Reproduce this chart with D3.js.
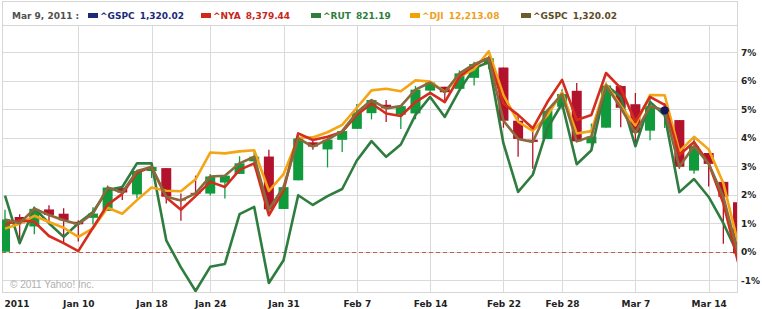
<!DOCTYPE html>
<html>
<head>
<meta charset="utf-8">
<script src="https://cdnjs.cloudflare.com/ajax/libs/d3/7.8.5/d3.min.js"></script>
<style>
  body { margin: 0; background: #fff; }
  svg { display: block; }
</style>
</head>
<body>
<div id="chart"></div>
<script>
/* ---------------------------------------------------------------*/
// trading days shown on the chart
var dates = ["Jan 3","Jan 4","Jan 5","Jan 6","Jan 7","Jan 10","Jan 11","Jan 12","Jan 13","Jan 14",
  "Jan 18","Jan 19","Jan 20","Jan 21","Jan 24","Jan 25","Jan 26","Jan 27","Jan 28","Jan 31",
  "Feb 1","Feb 2","Feb 3","Feb 4","Feb 7","Feb 8","Feb 9","Feb 10","Feb 11",
  "Feb 14","Feb 15","Feb 16","Feb 17","Feb 18","Feb 22","Feb 23","Feb 24","Feb 25","Feb 28",
  "Mar 1","Mar 2","Mar 3","Mar 4","Mar 7","Mar 8","Mar 9","Mar 10","Mar 11","Mar 14","Mar 15","Mar 16"];
var tickDates = ["Jan 3","Jan 10","Jan 18","Jan 24","Jan 31","Feb 7","Feb 14","Feb 22","Feb 28","Mar 7","Mar 14"];
var tickLabels = ["2011","Jan 10","Jan 18","Jan 24","Jan 31","Feb 7","Feb 14","Feb 22","Feb 28","Mar 7","Mar 14"];
var pctTicks = [-1, 0, 1, 2, 3, 4, 5, 6, 7];

// ^GSPC candles (prices), base = previous close
var gspcBase = 1257.64;
var gspcOpen = [1257.62,1272.95,1268.78,1276.29,1274.41,1270.84,1272.58,1275.65,1285.78,1282.90,
  1293.22,1294.52,1280.85,1283.63,1283.29,1288.17,1291.97,1297.51,1299.63,1276.50,
  1289.14,1305.91,1302.77,1307.01,1311.85,1318.76,1322.48,1318.13,1318.66,
  1328.73,1330.43,1329.51,1334.37,1340.38,1338.91,1315.44,1307.09,1307.34,1321.61,
  1328.64,1305.47,1312.37,1330.73,1322.72,1311.05,1319.92,1315.72,1293.43,1301.19,1288.46,1279.46];
var gspcHigh = [1276.17,1274.12,1277.63,1278.17,1276.83,1271.52,1277.25,1286.87,1286.70,1293.24,
  1296.06,1294.60,1283.35,1291.21,1291.93,1291.26,1299.74,1301.63,1302.67,1287.17,
  1308.86,1307.61,1308.60,1311.00,1322.85,1324.87,1324.54,1322.00,1330.79,
  1332.96,1330.43,1337.61,1341.50,1344.07,1338.91,1317.91,1310.91,1320.61,1329.38,
  1332.09,1314.19,1332.28,1331.08,1327.68,1325.74,1323.21,1315.72,1308.35,1301.19,1288.46,1280.91];
var gspcLow = [1257.62,1262.66,1265.36,1270.43,1261.70,1262.18,1269.62,1275.65,1280.47,1281.24,
  1290.16,1278.92,1271.26,1282.07,1282.47,1281.07,1291.97,1295.21,1275.10,1276.50,
  1289.14,1302.62,1294.83,1301.67,1311.85,1316.03,1314.89,1311.74,1316.08,
  1326.90,1324.61,1329.51,1331.00,1338.12,1312.33,1299.55,1294.26,1307.34,1320.55,
  1306.14,1302.58,1312.37,1312.59,1303.99,1306.86,1312.27,1294.21,1291.99,1286.37,1261.12,1249.05];
var gspcClose = [1271.87,1270.20,1276.56,1273.85,1271.50,1269.75,1274.48,1285.96,1283.76,1293.24,
  1295.02,1281.92,1280.26,1283.35,1290.84,1291.18,1296.63,1299.54,1276.34,1286.12,
  1307.59,1304.03,1307.10,1310.87,1319.05,1324.57,1320.88,1321.87,1329.15,
  1332.32,1328.01,1336.32,1340.43,1343.01,1315.44,1307.40,1306.10,1319.88,1327.22,
  1306.33,1308.44,1330.97,1321.15,1310.13,1321.82,1320.02,1295.11,1304.28,1296.39,1281.87,1256.88];

// comparison series, % change
var nyaPct = [0.95,1.10,1.05,0.55,0.30,0.02,0.84,1.65,2.03,2.77,
  2.98,1.90,1.47,1.95,2.45,2.27,2.87,3.10,1.28,2.16,
  4.15,3.92,4.03,4.20,4.80,5.20,4.85,4.76,5.25,
  5.57,5.25,6.13,6.55,6.80,5.20,4.80,4.33,5.25,6.03,
  4.62,4.80,6.27,5.74,4.55,5.43,5.15,3.39,3.85,3.10,1.70,-0.36];
var rutPct = [1.97,0.30,1.53,1.00,0.52,1.00,1.39,2.16,2.27,3.10,
  3.10,0.40,-0.55,-1.38,-0.53,-0.43,1.32,1.57,-1.10,-0.30,
  1.98,1.64,1.95,2.20,3.20,3.88,3.33,3.76,4.80,
  5.43,4.73,5.67,6.44,6.65,3.80,2.10,2.70,4.33,5.20,
  3.07,3.56,5.85,5.43,3.70,5.25,4.79,2.09,2.55,1.92,1.00,-0.10];
var djiPct = [0.81,0.98,1.26,1.04,0.84,0.52,0.82,1.54,1.33,1.81,
  2.25,2.14,2.12,2.54,3.48,3.45,3.52,3.56,2.13,2.72,
  4.00,4.01,4.19,4.45,5.05,5.66,5.72,5.63,6.01,
  5.97,5.61,6.14,6.40,7.03,5.49,4.56,4.24,4.78,5.60,
  4.15,4.23,5.88,5.12,4.43,5.50,5.49,3.52,4.03,3.59,2.40,0.31];

var legendDate = "Mar 9, 2011 :";
var legendNames = ["^GSPC","^NYA","^RUT","^DJI","^GSPC"];
var legendValues = ["1,320.02","8,379.44","821.19","12,213.08","1,320.02"];
var hoverDate = "Mar 9";

/* ---------------------------------------------------------------*/
var W = 762, H = 309;
var plotL = 2, plotR = 737, plotT = 25, plotB = 292;
var legendX = [88, 201, 311, 410, 521];
var legendColors = ["#1b2a7a", "#d2281c", "#2e7d3c", "#f5a000", "#6f5a2c"];
var textColors = ["#1b2a7a", "#c8261c", "#2e7d3c", "#f0a020", "#5e4c26"];

var svg = d3.select("#chart").append("svg")
  .attr("width", W).attr("height", H)
  .style("font-family", "'DejaVu Sans', Verdana, sans-serif");

var x = d3.scalePoint().domain(dates).range([5, 738]);
var y = d3.scaleLinear().domain([-1, 7]).range([280.2, 52.2]);
var pct = function(v) { return (v / gspcBase - 1) * 100; };

svg.append("defs").append("clipPath").attr("id", "plotClip")
  .append("rect").attr("x", plotL).attr("y", plotT)
  .attr("width", plotR - plotL).attr("height", plotB - plotT);

// frame + legend band
svg.append("rect").attr("x", plotL + 0.5).attr("y", 1.5)
  .attr("width", plotR - plotL).attr("height", plotB - 1)
  .attr("fill", "none").attr("stroke", "#d6d6d6");
svg.append("line").attr("x1", plotL).attr("x2", plotR)
  .attr("y1", plotT + 0.5).attr("y2", plotT + 0.5).attr("stroke", "#d6d6d6");

// grid
svg.append("g").selectAll("line").data(pctTicks).enter().append("line")
  .attr("x1", plotL).attr("x2", plotR)
  .attr("y1", function(d) { return Math.round(y(d)) + 0.5; })
  .attr("y2", function(d) { return Math.round(y(d)) + 0.5; })
  .attr("stroke", "#dadada");
svg.append("g").selectAll("line").data(tickDates.slice(1)).enter().append("line")
  .attr("x1", function(d) { return Math.round(x(d)) + 0.5; })
  .attr("x2", function(d) { return Math.round(x(d)) + 0.5; })
  .attr("y1", plotT).attr("y2", plotB)
  .attr("stroke", "#dadada");

// zero line
svg.append("line").attr("x1", plotL).attr("x2", plotR)
  .attr("y1", Math.round(y(0)) + 0.5).attr("y2", Math.round(y(0)) + 0.5)
  .attr("stroke", "#c0604a").attr("stroke-dasharray", "4,3");

svg.append("text").attr("x", 10).attr("y", 288)
  .style("font-family", "'Liberation Sans', Arial, sans-serif")
  .style("font-size", "10px").attr("fill", "#b0b0b0")
  .text("\u00a9 2011 Yahoo! Inc.");

var plot = svg.append("g").attr("clip-path", "url(#plotClip)");

// candles
var candles = plot.append("g").selectAll("g").data(dates).enter().append("g");
var candleColor = function(i) { return gspcClose[i] >= gspcOpen[i] ? "#0f9a3c" : "#b3122c"; };
candles.append("line")
  .attr("x1", function(d) { return x(d); }).attr("x2", function(d) { return x(d); })
  .attr("y1", function(d, i) { return y(pct(gspcHigh[i])); })
  .attr("y2", function(d, i) { return y(pct(gspcLow[i])); })
  .attr("stroke", function(d, i) { return candleColor(i); })
  .attr("stroke-width", 1.3);
candles.append("rect")
  .attr("x", function(d) { return x(d) - 5; })
  .attr("width", 10)
  .attr("y", function(d, i) { return y(pct(Math.max(gspcOpen[i], gspcClose[i]))); })
  .attr("height", function(d, i) {
    return Math.max(1, Math.abs(y(pct(gspcOpen[i])) - y(pct(gspcClose[i]))));
  })
  .attr("fill", function(d, i) { return candleColor(i); });

// comparison lines
var gspcPct = gspcClose.map(pct);
var lineSeries = [
  { vals: rutPct, color: "#2f7d3e" },
  { vals: djiPct, color: "#f5a414" },
  { vals: nyaPct, color: "#d42d1e" },
  { vals: gspcPct, color: "#8a6a3c" }
];
var line = d3.line()
  .x(function(d, i) { return x(dates[i]); })
  .y(function(d) { return y(d); });
plot.append("g").selectAll("path").data(lineSeries).enter().append("path")
  .attr("d", function(s) { return line(s.vals); })
  .attr("fill", "none")
  .attr("stroke", function(s) { return s.color; })
  .attr("stroke-width", 2.6)
  .attr("stroke-linejoin", "round");

// hover marker
var hi = dates.indexOf(hoverDate);
plot.append("circle").attr("cx", x(hoverDate)).attr("cy", y(gspcPct[hi]))
  .attr("r", 4.2).attr("fill", "#14185a");

// axes
var yAxis = svg.append("g").attr("transform", "translate(740,0)")
  .call(d3.axisRight(y).tickValues(pctTicks).tickSize(0).tickPadding(1)
    .tickFormat(function(d) { return d + "%"; }));
yAxis.select(".domain").remove();
yAxis.selectAll("text").style("font-family", "'DejaVu Sans', Verdana, sans-serif")
  .style("font-size", "9px").style("font-weight", "bold").attr("fill", "#222");

var xAxis = svg.append("g").attr("transform", "translate(0," + plotB + ")")
  .call(d3.axisBottom(x).tickValues(tickDates).tickSize(0).tickPadding(9)
    .tickFormat(function(d, i) { return tickLabels[i]; }));
xAxis.select(".domain").remove();
xAxis.selectAll("text").style("font-family", "'DejaVu Sans', Verdana, sans-serif")
  .style("font-size", "9px").style("font-weight", "bold").attr("fill", "#222");
xAxis.selectAll("text").filter(function(d, i) { return i === 0; })
  .attr("text-anchor", "start").attr("x", -1);

// legend
svg.append("text").attr("x", 12).attr("y", 19)
  .style("font-size", "9px").style("font-weight", "bold").attr("fill", "#505050")
  .text(legendDate);
legendNames.forEach(function(name, i) {
  var g = svg.append("g").attr("transform", "translate(" + legendX[i] + ",0)");
  g.append("rect").attr("x", 0).attr("y", 13).attr("width", 10).attr("height", 5)
    .attr("fill", legendColors[i]);
  var t = g.append("text").attr("x", 12).attr("y", 19)
    .style("font-size", "9px").style("font-weight", "bold").attr("fill", textColors[i])
    .text(name);
  var w = t.node().getComputedTextLength();
  g.append("text").attr("x", 12 + w + 5).attr("y", 19)
    .style("font-size", "9px").style("font-weight", "bold").attr("fill", textColors[i])
    .text(legendValues[i]);
});
</script>
</body>
</html>
